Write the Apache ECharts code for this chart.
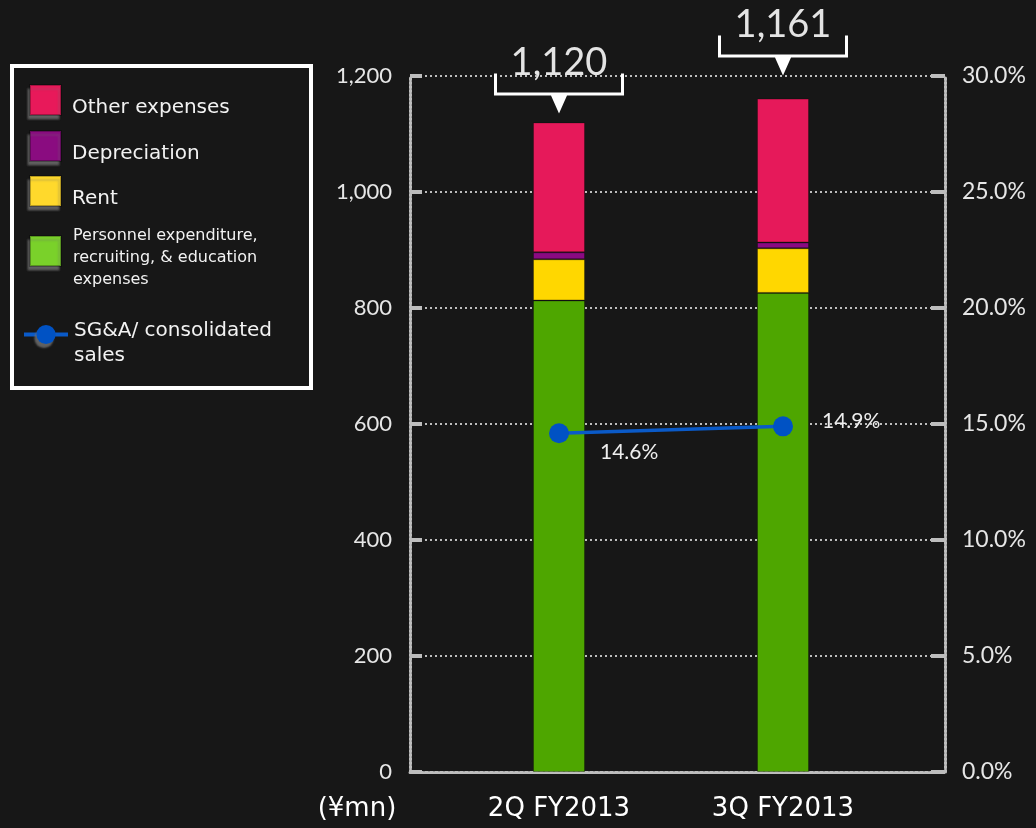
<!DOCTYPE html>
<html>
<head>
<meta charset="utf-8">
<title>SG&amp;A breakdown</title>
<script src="https://cdn.jsdelivr.net/npm/echarts@6/dist/echarts.min.js"></script>
<style>
  html, body { margin: 0; padding: 0; background: #171717; }
  #chart { width: 1036px; height: 828px; }
</style>
</head>
<body>
<div id="chart"></div>
<script>
// Quarterly SG&A breakdown (¥mn) and SG&A as a share of consolidated sales (%)
const quarters = ['2Q FY2013', '3Q FY2013'];
const personnel = [813, 826];
const rent = [71, 77];
const depreciation = [12, 10];
const otherExpenses = [224, 248];
const sgaRatio = [14.6, 14.9];

// Axis ranges and tick steps
const amountRange = [0, 1200];
const amountStep = 200;
const ratioRange = [0, 30];
const ratioStep = 5;

const totals = quarters.map((_, i) => personnel[i] + rent[i] + depreciation[i] + otherExpenses[i]);

const NAME_OTHER = 'Other expenses';
const NAME_DEP = 'Depreciation';
const NAME_RENT = 'Rent';
const NAME_PERS = 'Personnel expenditure,\nrecruiting, & education\nexpenses';
const NAME_RATIO = 'SG&A/ consolidated\nsales';

const gray = '#bdbdbd';
const labelFont = 'Lato';
const textFont = 'DejaVu Sans';

const chart = echarts.init(document.getElementById('chart'), null, { renderer: 'canvas' });

// Legend text sits a little below its swatch: a thin spacer line goes first.
function legendText(padHeight, fontSize, lineHeight, leftGap) {
  return {
    formatter: name => '{pad| }\n' + name.split('\n').map(s => '{t|' + s + '}').join('\n'),
    textStyle: {
      padding: [0, 0, 0, leftGap],
      rich: {
        pad: { fontSize: 1, lineHeight: padHeight },
        t: { color: '#f2f2f2', fontFamily: textFont, fontSize: fontSize, lineHeight: lineHeight }
      }
    }
  };
}

const legendBase = {
  orient: 'vertical',
  padding: 0,
  itemGap: 0,
  selectedMode: false,
  itemStyle: { shadowBlur: 2, shadowColor: 'rgba(110,110,110,0.85)', shadowOffsetX: -2, shadowOffsetY: 4 }
};
function squareLegend(top, name, color, text) {
  return Object.assign({}, legendBase, text, {
    left: 29, top: top, itemWidth: 31, itemHeight: 30,
    data: [{ name: name, icon: 'rect', itemStyle: { color: color } }]
  });
}

// vertical pixel lift of each total callout above its bar
const calloutLift = [29, 43];

const barBase = {
  type: 'bar',
  xAxisIndex: 1,
  yAxisIndex: 2,
  stack: 'sga',
  barWidth: 52,
  itemStyle: { borderColor: 'rgba(0,0,0,0.28)', borderWidth: 1 }
};

const option = {
  backgroundColor: '#171717',
  animation: false,
  graphic: [{
    type: 'rect',
    shape: { x: 12, y: 66, width: 299, height: 322 },
    style: { fill: 'none', stroke: '#ffffff', lineWidth: 4 },
    silent: true
  }],
  legend: [
    squareLegend(84, NAME_OTHER, '#e8195a', legendText(15, 20, 24, 6)),
    squareLegend(130, NAME_DEP, '#8a0c80', legendText(15, 20, 24, 6)),
    squareLegend(175, NAME_RENT, '#ffd92c', legendText(15, 20, 24, 6)),
    squareLegend(217.5, NAME_PERS, '#7ad12a', legendText(13, 16, 22, 7)),
    Object.assign({}, legendBase, legendText(17, 20, 25, 1), {
      left: 22, top: 309, itemWidth: 44, itemHeight: 24,
      lineStyle: { color: '#0a5ac8', width: 4 },
      data: [{ name: NAME_RATIO, itemStyle: { color: '#0052c4' } }]
    })
  ],
  grid: [
    { left: 410, right: 91, top: 76, bottom: 56 },
    { left: 447, right: 141, top: 76, bottom: 56 }
  ],
  xAxis: [
    {
      gridIndex: 0, type: 'value', min: 0, max: 1,
      axisLine: { show: true, lineStyle: { color: gray, width: 3, type: [3, 2] } },
      axisTick: { show: false }, axisLabel: { show: false }, splitLine: { show: false }
    },
    {
      gridIndex: 1, type: 'category', data: quarters,
      axisLine: { show: false }, axisTick: { show: false },
      axisLabel: { color: '#ffffff', fontFamily: textFont, fontSize: 26, margin: 24 }
    }
  ],
  yAxis: [
    {
      gridIndex: 0, type: 'value', position: 'left',
      min: amountRange[0], max: amountRange[1], interval: amountStep,
      name: '(¥mn)', nameLocation: 'start', nameGap: 24,
      nameTextStyle: { color: '#ffffff', fontFamily: textFont, fontSize: 26, align: 'center', padding: [0, 106, 0, 0] },
      axisLine: { show: true, lineStyle: { color: gray, width: 3, type: [2, 2] } },
      axisTick: { show: true, inside: true, length: 12, lineStyle: { color: gray, width: 4 } },
      axisLabel: { color: '#e6e6e6', fontFamily: labelFont, fontSize: 22, margin: 18,
        formatter: v => v.toLocaleString('en-US') },
      splitLine: { show: true, lineStyle: { color: gray, width: 2, type: [2, 3] } }
    },
    {
      gridIndex: 0, type: 'value', position: 'right',
      min: ratioRange[0], max: ratioRange[1], interval: ratioStep,
      axisLine: { show: true, lineStyle: { color: gray, width: 3, type: [2, 2] } },
      axisTick: { show: true, inside: true, length: 14, lineStyle: { color: gray, width: 4 } },
      axisLabel: { color: '#e6e6e6', fontFamily: labelFont, fontSize: 23, margin: 17,
        formatter: v => v.toFixed(1) + '%' },
      splitLine: { show: false }
    },
    { gridIndex: 1, type: 'value', show: false, min: amountRange[0], max: amountRange[1] },
    { gridIndex: 1, type: 'value', show: false, min: ratioRange[0], max: ratioRange[1] }
  ],
  series: [
    Object.assign({}, barBase, { name: NAME_PERS, data: personnel,
      itemStyle: Object.assign({}, barBase.itemStyle, { color: '#4ea600' }) }),
    Object.assign({}, barBase, { name: NAME_RENT, data: rent,
      itemStyle: Object.assign({}, barBase.itemStyle, { color: '#ffd700' }) }),
    Object.assign({}, barBase, { name: NAME_DEP, data: depreciation,
      itemStyle: Object.assign({}, barBase.itemStyle, { color: '#8a0a82' }) }),
    Object.assign({}, barBase, { name: NAME_OTHER, data: otherExpenses,
      itemStyle: Object.assign({}, barBase.itemStyle, { color: '#e6195a' }),
      markPoint: {
        silent: true,
        symbol: 'path://M0 0L3 0L3 19L127 19L127 0L130 0L130 22L73 22L65 40L57 22L0 22Z',
        symbolSize: [130, 40],
        itemStyle: { color: '#ffffff' },
        label: {
          show: true, position: 'inside', offset: [0, -31],
          color: '#e4e4e4', fontFamily: labelFont, fontSize: 38, fontWeight: 'normal',
          formatter: p => p.value.toLocaleString('en-US')
        },
        data: quarters.map((q, i) => ({
          coord: [i, totals[i]], value: totals[i], symbolOffset: [0, -calloutLift[i]]
        }))
      }
    }),
    {
      name: NAME_RATIO, type: 'line', xAxisIndex: 1, yAxisIndex: 3,
      symbol: 'circle', symbolSize: 20,
      lineStyle: { color: '#0a5ac8', width: 3.5 },
      itemStyle: { color: '#0052c4' },
      label: {
        show: true, position: 'right', color: '#eeeeee', fontFamily: labelFont, fontSize: 21,
        formatter: p => p.value.toFixed(1) + '%'
      },
      data: sgaRatio.map((v, i) => ({
        value: v,
        label: { offset: i === 0 ? [26, 19] : [24, -5] }
      }))
    }
  ]
};

chart.setOption(option);
</script>
</body>
</html>
